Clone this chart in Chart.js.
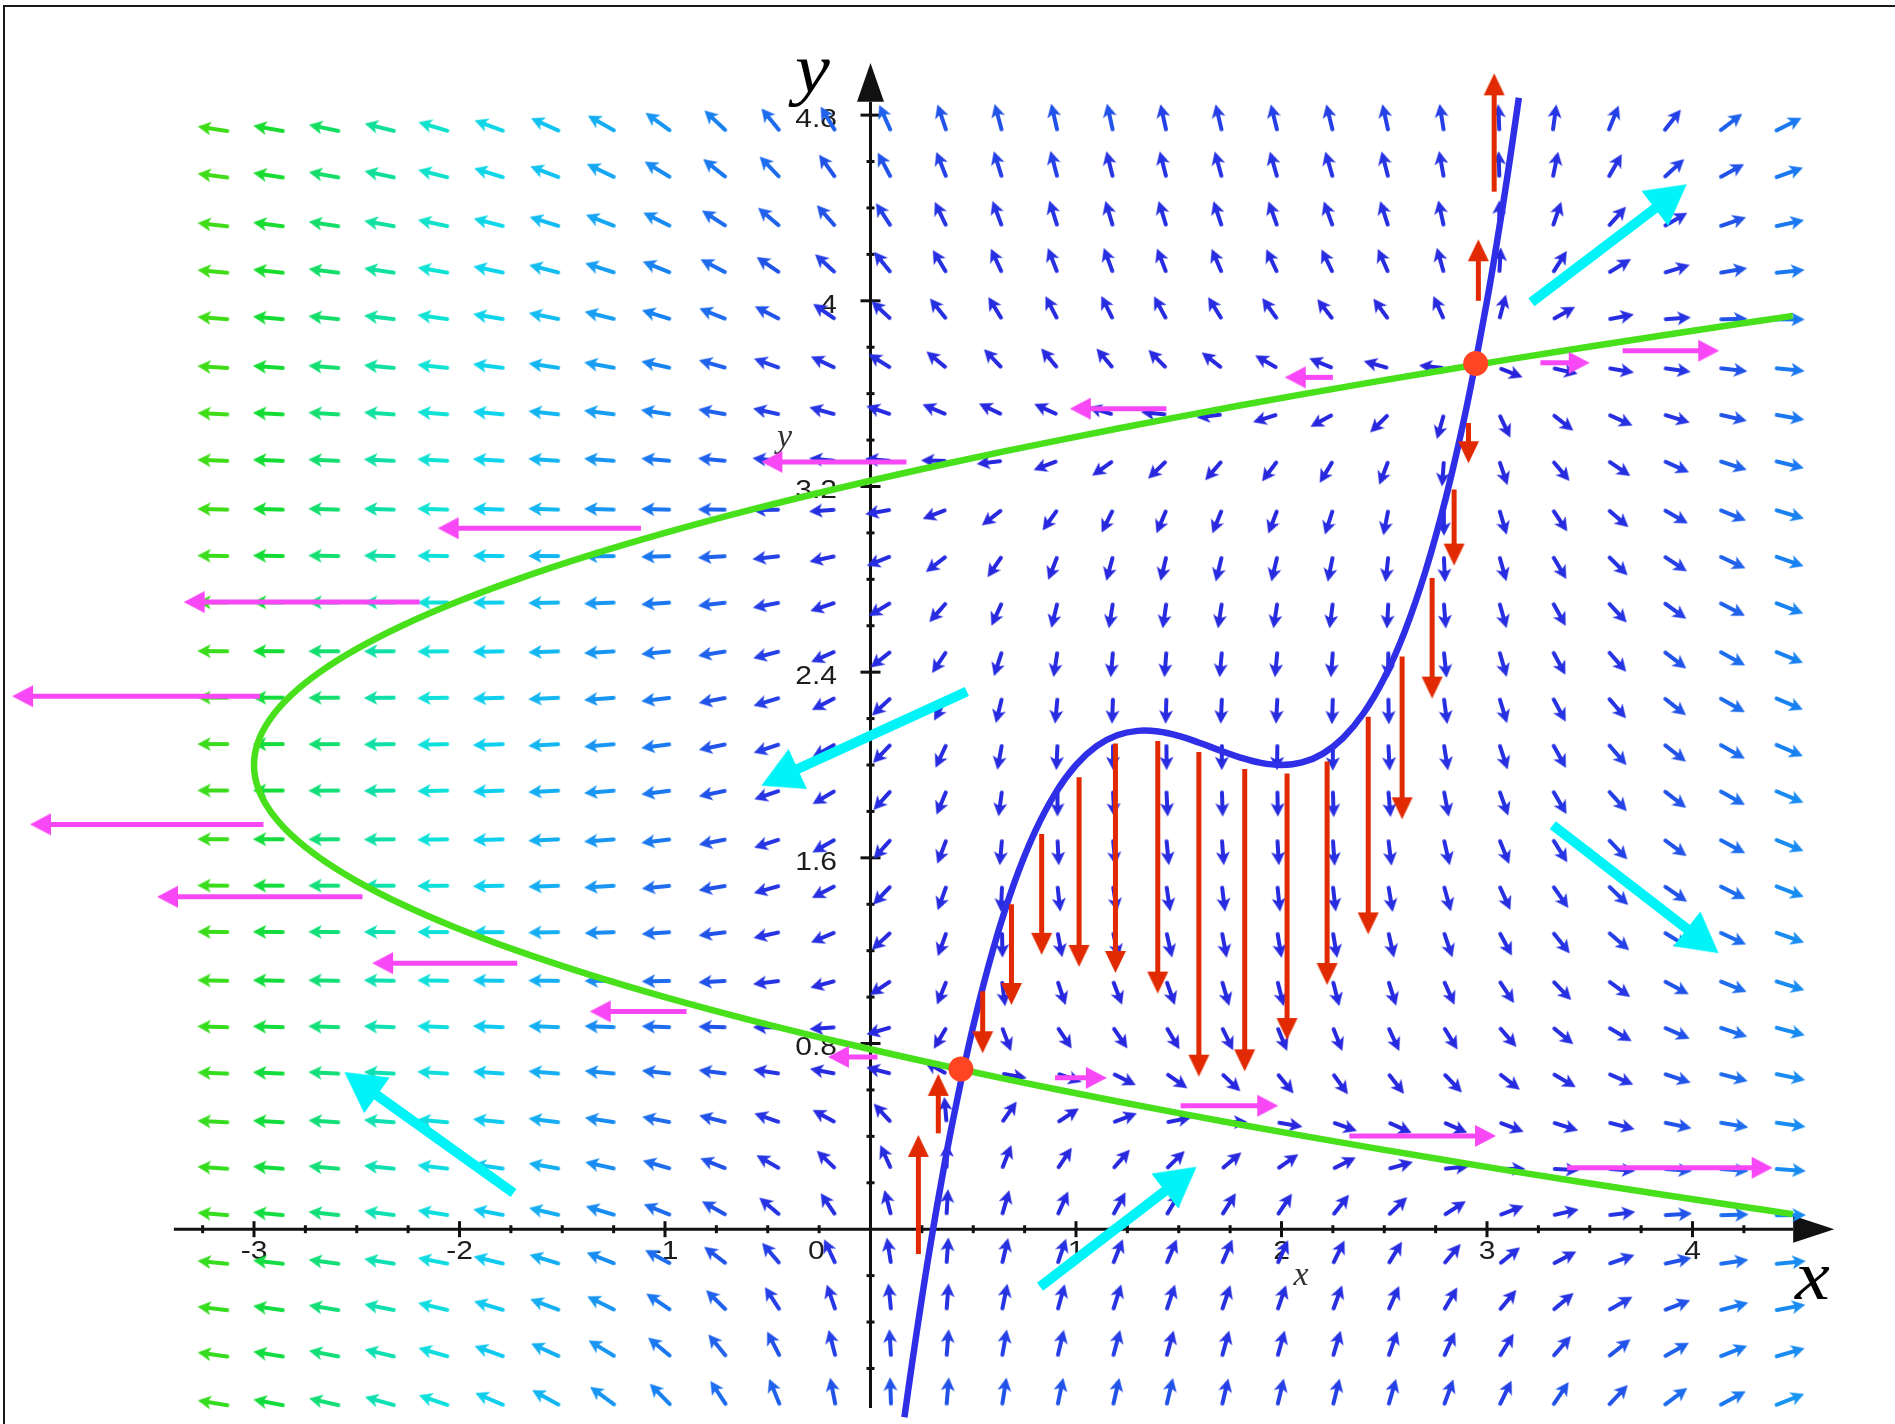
<!DOCTYPE html>
<html>
<head>
<meta charset="utf-8">
<title>Phase plane: nullclines and direction field</title>
<script src="https://cdn.jsdelivr.net/npm/chart.js@4.4.1/dist/chart.umd.min.js"></script>
<style>
  html, body { margin: 0; padding: 0; background: #ffffff; }
  #wrap { width: 1895px; height: 1424px; }
</style>
</head>
<body>
<div id="wrap"><canvas id="plane" width="1895" height="1424"></canvas></div>
<script>
// ---------------------------------------------------------------------------
// System:  x' = x^3 - 5x^2 + 8x - 2 - y     y' = 2y^2 - 8y + 5 - x
// ---------------------------------------------------------------------------
const cubicCoef = [1, -5, 8, -2];   // x-nullcline  y = x^3 - 5x^2 + 8x - 2
const quadCoef  = [2, -8, 5];       // y-nullcline  x = 2y^2 - 8y + 5

// Direction-field grid (arrow tails)
const fieldXs = [-3.12, -2.85, -2.58, -2.31, -2.05, -1.78, -1.51, -1.24, -0.97, -0.70,
                 -0.44, -0.17, 0.10, 0.37, 0.64, 0.91, 1.18, 1.44, 1.71, 1.98,
                 2.25, 2.52, 2.79, 3.06, 3.32, 3.59, 3.86, 4.13, 4.40];
const fieldYs = [4.73, 4.53, 4.32, 4.12, 3.92, 3.71, 3.51, 3.31, 3.10, 2.90,
                 2.70, 2.49, 2.29, 2.09, 1.89, 1.68, 1.48, 1.28, 1.07, 0.87,
                 0.67, 0.46, 0.26, 0.06, -0.15, -0.35, -0.55, -0.76];

// x-nullcline (blue cubic)
const cubicX = [0.165, 0.2, 0.25, 0.3, 0.35, 0.4, 0.5, 0.6, 0.7, 0.8, 0.9, 1.0, 1.1, 1.2, 1.3, 1.4,
                1.5, 1.6, 1.7, 1.8, 1.9, 2.0, 2.1, 2.2, 2.3, 2.4, 2.5, 2.6, 2.7, 2.8, 2.9, 3.0,
                3.05, 3.1, 3.155];
const cubicY = [-0.81, -0.592, -0.297, -0.023, 0.230, 0.464, 0.875, 1.216, 1.493, 1.712, 1.879, 2.0,
                2.081, 2.128, 2.147, 2.144, 2.125, 2.096, 2.063, 2.032, 2.009, 2.0, 2.011, 2.048,
                2.117, 2.224, 2.375, 2.576, 2.833, 3.152, 3.539, 4.0, 4.261, 4.541, 4.875];

// y-nullcline (green parabola)
const parabolaY = [0.065, 0.1, 0.2, 0.3, 0.4, 0.5, 0.6, 0.7, 0.8, 0.9, 1.0, 1.1, 1.2, 1.3, 1.4, 1.5,
                   1.6, 1.7, 1.8, 1.9, 2.0, 2.1, 2.2, 2.3, 2.4, 2.5, 2.6, 2.7, 2.8, 2.9, 3.0, 3.1,
                   3.2, 3.3, 3.4, 3.5, 3.6, 3.7, 3.8, 3.9, 3.935];
const parabolaX = [4.488, 4.22, 3.48, 2.78, 2.12, 1.5, 0.92, 0.38, -0.12, -0.58, -1.0, -1.38, -1.72,
                   -2.02, -2.28, -2.5, -2.68, -2.82, -2.92, -2.98, -3.0, -2.98, -2.92, -2.82, -2.68,
                   -2.5, -2.28, -2.02, -1.72, -1.38, -1.0, -0.58, -0.12, 0.38, 0.92, 1.5, 2.12,
                   2.78, 3.48, 4.22, 4.488];

// Equilibria (nullcline crossings)
const equilibriumX = [0.44, 2.945];
const equilibriumY = [0.69, 3.73];

// Horizontal flow on the y-nullcline: [xFrom, y, xTo, y]
const magentaArrows = [
  [0.175, 3.306, -0.531, 3.306], [1.44, 3.535, 0.97, 3.535], [2.25, 3.67, 2.016, 3.67],
  [3.26, 3.733, 3.5, 3.733], [3.66, 3.785, 4.13, 3.785], [-1.117, 3.02, -2.106, 3.02],
  [-2.194, 2.702, -3.342, 2.702], [-2.971, 2.296, -4.177, 2.296], [-2.954, 1.744, -4.09, 1.744],
  [-2.472, 1.432, -3.472, 1.432], [-1.719, 1.146, -2.425, 1.146], [-0.895, 0.938, -1.366, 0.938],
  [0.034, 0.742, -0.207, 0.742], [0.898, 0.652, 1.15, 0.652], [1.509, 0.532, 1.984, 0.532],
  [2.33, 0.402, 3.044, 0.402], [3.39, 0.265, 4.39, 0.265]
];

// Vertical flow on the x-nullcline: [x, yFrom, yTo]
const redArrows = [
  [3.035, 4.47, 4.98], [2.958, 4.0, 4.265], [2.91, 3.473, 3.30], [2.84, 3.187, 2.859],
  [2.733, 2.806, 2.286], [2.587, 2.468, 1.766], [2.422, 2.208, 1.27], [2.222, 2.015, 1.052],
  [2.027, 1.963, 0.815], [1.821, 1.983, 0.68], [1.598, 2.056, 0.657], [1.398, 2.103, 1.015],
  [1.192, 2.093, 1.104], [1.015, 1.947, 1.13], [0.833, 1.703, 1.182], [0.686, 1.40, 0.966],
  [0.546, 1.025, 0.758], [0.33, 0.413, 0.669], [0.233, -0.107, 0.406]
];

// Flow direction in each region: [xFrom, yFrom, xTo, yTo]
const cyanArrows = [
  [3.216, 3.994, 3.972, 4.502], [0.469, 2.317, -0.531, 1.911], [3.32, 1.741, 4.127, 1.189],
  [-1.737, 0.156, -2.56, 0.677], [0.825, -0.248, 1.587, 0.269]
];

// Axis ticks
const xTickValues = [-3, -2, -1, 0, 1, 2, 3, 4];
const xTickLabels = ['-3', '-2', '-1', '0', '1', '2', '3', '4'];
const yTickValues = [0.8, 1.6, 2.4, 3.2, 4, 4.8];
const yTickLabels = ['0.8', '1.6', '2.4', '3.2', '4', '4.8'];

// ---------------------------------------------------------------------------
// View window
// ---------------------------------------------------------------------------
const W = 1895, H = 1424;
const X_MIN = -4.236, X_MAX = 4.9854, Y_MIN = -0.8393, Y_MAX = 5.296;
const PX_X = W / (X_MAX - X_MIN), PX_Y = H / (Y_MAX - Y_MIN);

const polyVal = (c, t) => c.reduce((acc, k) => acc * t + k, 0);

// Field colour by speed: blue (slow) -> cyan -> green (fast)
const fieldColorStops = [
  [0, [40, 36, 220]], [9, [38, 54, 228]], [13, [33, 92, 234]], [18, [26, 120, 240]],
  [24, [24, 150, 242]], [32, [20, 182, 242]], [41, [16, 210, 238]], [51, [16, 226, 216]],
  [62, [16, 224, 168]], [76, [20, 222, 112]], [92, [20, 220, 52]], [110, [64, 220, 24]]
];
function fieldColor(m) {
  const s = fieldColorStops;
  if (m <= s[0][0]) return s[0][1];
  for (let i = 1; i < s.length; i++) {
    if (m <= s[i][0]) {
      const t = (m - s[i - 1][0]) / (s[i][0] - s[i - 1][0]);
      return s[i - 1][1].map((v, k) => Math.round(v + t * (s[i][1][k] - v)));
    }
  }
  return s[s.length - 1][1];
}

const fieldImgCache = new Map();
function fieldArrowImage(m) {
  const q = Math.min(60, Math.round(m / 2));
  if (fieldImgCache.has(q)) return fieldImgCache.get(q);
  const mm = q * 2;
  const L = 25 + 7 * Math.min(1, mm / 25);
  const [r, g, b] = fieldColor(mm);
  const half = Math.ceil(L + 3);
  const c = document.createElement('canvas');
  c.width = half * 2; c.height = 20;
  const x = c.getContext('2d');
  x.strokeStyle = x.fillStyle = `rgb(${r},${g},${b})`;
  x.lineWidth = 3.9; x.lineCap = 'round';
  x.beginPath(); x.moveTo(half + 2, 10); x.lineTo(half + L - 8, 10); x.stroke();
  x.beginPath();
  x.moveTo(half + L, 10); x.lineTo(half + L - 13.5, 3); x.lineTo(half + L - 10, 10);
  x.lineTo(half + L - 13.5, 17); x.closePath(); x.fill();
  fieldImgCache.set(q, c);
  return c;
}

const fieldPoints = [], fieldRot = [], fieldImg = [];
for (const fy of fieldYs) {
  for (const fx of fieldXs) {
    const u = polyVal(cubicCoef, fx) - fy;
    const v = polyVal(quadCoef, fy) - fx;
    fieldPoints.push({ x: fx, y: fy });
    fieldRot.push(Math.atan2(-v * PX_Y, u * PX_X) * 180 / Math.PI);
    fieldImg.push(fieldArrowImage(Math.hypot(u, v)));
  }
}

// Arrow-head sprite: tip at the sprite centre, pointing right
function headImage(color, len, width) {
  const c = document.createElement('canvas');
  c.width = Math.ceil(len * 2 + 4); c.height = Math.ceil(width + 4);
  const x = c.getContext('2d');
  const cx = c.width / 2, cy = c.height / 2;
  x.fillStyle = color;
  x.beginPath(); x.moveTo(cx, cy); x.lineTo(cx - len, cy - width / 2);
  x.lineTo(cx - len, cy + width / 2); x.closePath(); x.fill();
  return c;
}

// Shaft datasets + one head dataset per arrow family
function arrowFamily(list, color, shaftW, headLen, headW, order) {
  const sprite = headImage(color, headLen, headW);
  const sets = [], tips = [], rots = [];
  list.forEach(([x0, y0, x1, y1]) => {
    const dxp = (x1 - x0) * PX_X, dyp = -(y1 - y0) * PX_Y;
    const len = Math.hypot(dxp, dyp), ux = dxp / len, uy = dyp / len;
    const back = headLen * 0.8;
    sets.push({
      data: [{ x: x0, y: y0 }, { x: x1 - ux * back / PX_X, y: y1 + uy * back / PX_Y }],
      showLine: true, borderColor: color, borderWidth: shaftW, borderCapStyle: 'butt',
      pointRadius: 0, tension: 0, order
    });
    tips.push({ x: x1, y: y1 });
    rots.push(Math.atan2(dyp, dxp) * 180 / Math.PI);
  });
  sets.push({
    data: tips, showLine: false, pointRadius: 2, pointStyle: sprite,
    pointRotation: ctx => rots[ctx.dataIndex] || 0, order: order - 0.5
  });
  return sets;
}

const redList = redArrows.map(([x, a, b]) => [x, a, x, b]);

// ---------------------------------------------------------------------------
// Axes through the origin, ticks, labels
// ---------------------------------------------------------------------------
const AX = { xFrom: -3.39, xTo: 4.49, xTip: 4.69, yFrom: -0.77, yTo: 4.858, yTip: 5.025 };

function stretchedText(ctx, str, x, y, font, align, baseline, sx) {
  ctx.save();
  ctx.translate(x, y); ctx.scale(sx, 1);
  ctx.font = font; ctx.textAlign = align; ctx.textBaseline = baseline;
  ctx.fillText(str, 0, 0);
  ctx.restore();
}

const axesPlugin = {
  id: 'phaseAxes',
  beforeDatasetsDraw(chart) {
    const { ctx } = chart;
    const px = v => chart.scales.x.getPixelForValue(v);
    const py = v => chart.scales.y.getPixelForValue(v);
    const x0 = px(0), y0 = py(0);
    const seg = (a, b, c, d) => { ctx.beginPath(); ctx.moveTo(a, b); ctx.lineTo(c, d); ctx.stroke(); };

    ctx.save();
    // outer frame
    ctx.strokeStyle = '#1a1a1a'; ctx.lineWidth = 2;
    ctx.beginPath(); ctx.moveTo(4, H); ctx.lineTo(4, 6); ctx.lineTo(W, 6); ctx.stroke();

    ctx.strokeStyle = '#111'; ctx.fillStyle = '#111'; ctx.lineWidth = 3;
    // axis lines
    seg(px(AX.xFrom), y0, px(AX.xTo), y0);
    seg(x0, py(AX.yFrom), x0, py(AX.yTo));
    // arrow heads
    ctx.beginPath(); ctx.moveTo(px(AX.xTip), y0);
    ctx.lineTo(px(AX.xTo), y0 - 13.5); ctx.lineTo(px(AX.xTo), y0 + 13.5); ctx.closePath(); ctx.fill();
    ctx.beginPath(); ctx.moveTo(x0, py(AX.yTip));
    ctx.lineTo(x0 - 13.5, py(AX.yTo)); ctx.lineTo(x0 + 13.5, py(AX.yTo)); ctx.closePath(); ctx.fill();

    // minor ticks
    for (let k = -13; k <= 17; k++) {
      if (k % 4 === 0) continue;
      const v = k / 4;
      seg(px(v), y0 - 4, px(v), y0 + 4);
    }
    for (let k = -3; k <= 23; k++) {
      if (k % 4 === 0) continue;
      const v = k / 5;
      seg(x0 - 4, py(v), x0 + 4, py(v));
    }
    // major ticks
    xTickValues.forEach(v => { if (v !== 0) seg(px(v), y0 - 8, px(v), y0 + 8); });
    yTickValues.forEach(v => seg(x0 - 10, py(v), x0 + 10, py(v)));

    // tick labels
    ctx.fillStyle = '#1c1c1c';
    const tickFont = '25px "Liberation Sans", Arial, sans-serif';
    xTickValues.forEach((v, i) => {
      const xx = v === 0 ? px(-0.263) : px(v);
      stretchedText(ctx, xTickLabels[i], xx, y0 + 23, tickFont, 'center', 'middle', 1.2);
    });
    yTickValues.forEach((v, i) => {
      stretchedText(ctx, yTickLabels[i], x0 - 33.5, py(v) + 5, tickFont, 'right', 'middle', 1.2);
    });

    // axis names
    ctx.fillStyle = '#000';
    const bigFont = 'italic 70px "Liberation Serif", "Times New Roman", serif';
    stretchedText(ctx, 'y', x0 - 58, 92, bigFont, 'center', 'alphabetic', 1.12);
    stretchedText(ctx, 'x', px(AX.xTip) - 22, y0 + 70, bigFont, 'center', 'alphabetic', 1.12);
    ctx.fillStyle = '#333';
    const smallFont = 'italic 34px "Liberation Serif", "Times New Roman", serif';
    stretchedText(ctx, 'y', x0 - 86, 447, smallFont, 'center', 'alphabetic', 1.0);
    stretchedText(ctx, 'x', px(2.095), y0 + 56, smallFont, 'center', 'alphabetic', 1.0);
    ctx.restore();
  }
};

// ---------------------------------------------------------------------------
// Datasets
// ---------------------------------------------------------------------------
const datasets = [
  {
    label: 'direction field',
    data: fieldPoints, showLine: false, pointRadius: 2,
    pointStyle: ctx => fieldImg[ctx.dataIndex] || 'circle',
    pointRotation: ctx => fieldRot[ctx.dataIndex] || 0,
    order: 20
  },
  {
    label: 'y-nullcline',
    data: parabolaX.map((x, i) => ({ x, y: parabolaY[i] })),
    showLine: true, borderColor: '#47e01b', borderWidth: 6.5, pointRadius: 0, tension: 0.4,
    borderCapStyle: 'butt', order: 12
  },
  {
    label: 'x-nullcline',
    data: cubicX.map((x, i) => ({ x, y: cubicY[i] })),
    showLine: true, borderColor: '#2f2fe8', borderWidth: 6.5, pointRadius: 0, tension: 0.4,
    borderCapStyle: 'butt', order: 11
  },
  ...arrowFamily(cyanArrows, '#00f4f7', 10, 40, 44, 9),
  ...arrowFamily(magentaArrows, '#f848f5', 5, 21, 22, 7),
  ...arrowFamily(redList, '#e22a02', 5, 22, 21, 5),
  {
    label: 'equilibria',
    data: equilibriumX.map((x, i) => ({ x, y: equilibriumY[i] })),
    showLine: false, pointRadius: 12.5, pointBackgroundColor: '#ff4522',
    pointBorderWidth: 0, order: 1
  }
];

new Chart(document.getElementById('plane'), {
  type: 'scatter',
  data: { datasets },
  options: {
    responsive: false,
    devicePixelRatio: 1,
    animation: false,
    events: [],
    layout: { padding: 0, autoPadding: false },
    plugins: { legend: { display: false }, tooltip: { enabled: false } },
    scales: {
      x: { type: 'linear', min: X_MIN, max: X_MAX, display: false },
      y: { type: 'linear', min: Y_MIN, max: Y_MAX, display: false }
    }
  },
  plugins: [axesPlugin]
});
</script>
</body>
</html>
